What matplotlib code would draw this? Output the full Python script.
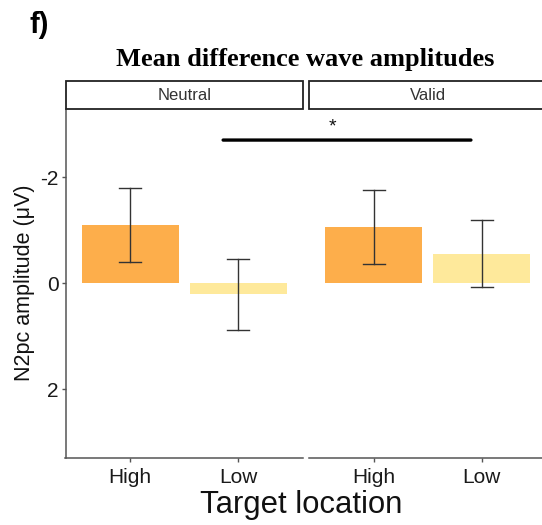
import matplotlib
matplotlib.use("Agg")
import matplotlib.pyplot as plt
from matplotlib.patches import Rectangle, ConnectionPatch

# ---- data ----
panels = ["Neutral", "Valid"]
categories = ["High", "Low"]
means = {"Neutral": [-1.10, 0.20], "Valid": [-1.07, -0.55]}
err_low = {"Neutral": [-1.79, -0.46], "Valid": [-1.76, -1.19]}
err_high = {"Neutral": [-0.40, 0.89], "Valid": [-0.37, 0.07]}
yticks = [-2, 0, 2]
title = "Mean difference wave amplitudes"
xlabel = "Target location"
ylabel = "N2pc amplitude (\u03bcV)"
colors = ["#FDAE4B", "#FEE99B"]

W, H = 542, 525
fig = plt.figure(figsize=(W / 100, H / 100), dpi=100)
plt.rcParams['font.family'] = ['Liberation Sans', 'DejaVu Sans']

def fx(px):
    return px / W

def fy(py):
    return 1 - py / H

top_px, bot_px = 109.3, 458.3
pw = 237.5
lefts = [65.5, 309.0]
axes = []
for i, name in enumerate(panels):
    ax = fig.add_axes([fx(lefts[i]), fy(bot_px), pw / W, (bot_px - top_px) / H])
    axes.append(ax)
    xs = list(range(len(categories)))
    ax.bar(xs, means[name], width=0.9, color=colors, zorder=1)
    for j, x in enumerate(xs):
        lo, hi = err_low[name][j], err_high[name][j]
        ax.plot([x, x], [lo, hi], color="#333333", lw=1.0, zorder=3)
        ax.plot([x - 0.1, x + 0.1], [lo, lo], color="#333333", lw=1.0, zorder=3)
        ax.plot([x - 0.1, x + 0.1], [hi, hi], color="#333333", lw=1.0, zorder=3)
    ax.set_xlim(-0.6, 1.6)
    ax.set_ylim(3.30, -3.28)
    ax.set_xticks(xs)
    ax.set_xticklabels(categories, fontsize=15, color="#1a1a1a")
    for s in ["top", "right"]:
        ax.spines[s].set_visible(False)
    ax.spines["bottom"].set_color("#555555")
    ax.spines["bottom"].set_linewidth(1.1)
    ax.tick_params(axis="x", length=3, width=1, color="#555555", pad=4)
    if i == 0:
        ax.spines["left"].set_color("#555555")
        ax.spines["left"].set_linewidth(1.1)
        ax.set_yticks(yticks)
        ax.set_yticklabels([str(v) for v in yticks], fontsize=15, color="#1a1a1a")
        ax.tick_params(axis="y", length=3, width=1, color="#555555", pad=2)
    else:
        ax.spines["left"].set_visible(False)
        ax.set_yticks([])
    ax.patch.set_alpha(0)

    # facet strip
    strip = Rectangle((fx(lefts[i]), fy(109.3)), pw / W, (109.3 - 81.0) / H,
                      transform=fig.transFigure, facecolor="white",
                      edgecolor="#222222", lw=1.3, clip_on=False)
    fig.add_artist(strip)
    fig.text(fx(lefts[i] + pw / 2), fy(95.5), name, ha="center", va="center",
             fontsize=12, color="#333333")

# significance bar
sig_y = -2.70
con = ConnectionPatch(xyA=(0.86, sig_y), coordsA=axes[0].transData,
                      xyB=(0.90, sig_y), coordsB=axes[1].transData,
                      color="black", lw=2.4)
fig.add_artist(con)
axes[1].text(-0.38, -2.95, "*", ha="center", va="center", fontsize=14,
             color="#111111", clip_on=False)

fig.text(fx(305), fy(66), title, ha="center", va="baseline",
         fontsize=19, fontweight="bold", family="Liberation Serif")
fig.text(fx(29), fy(25), "f)", ha="left", va="center", fontsize=21,
         fontweight="bold")
fig.text(fx(301), fy(505), xlabel, ha="center", va="center", fontsize=22.3,
         color="#111111")
fig.text(fx(25), fy(283), ylabel, ha="center", va="center", rotation=90,
         fontsize=15.5, color="#111111")

fig.savefig("out.png", dpi=100)
